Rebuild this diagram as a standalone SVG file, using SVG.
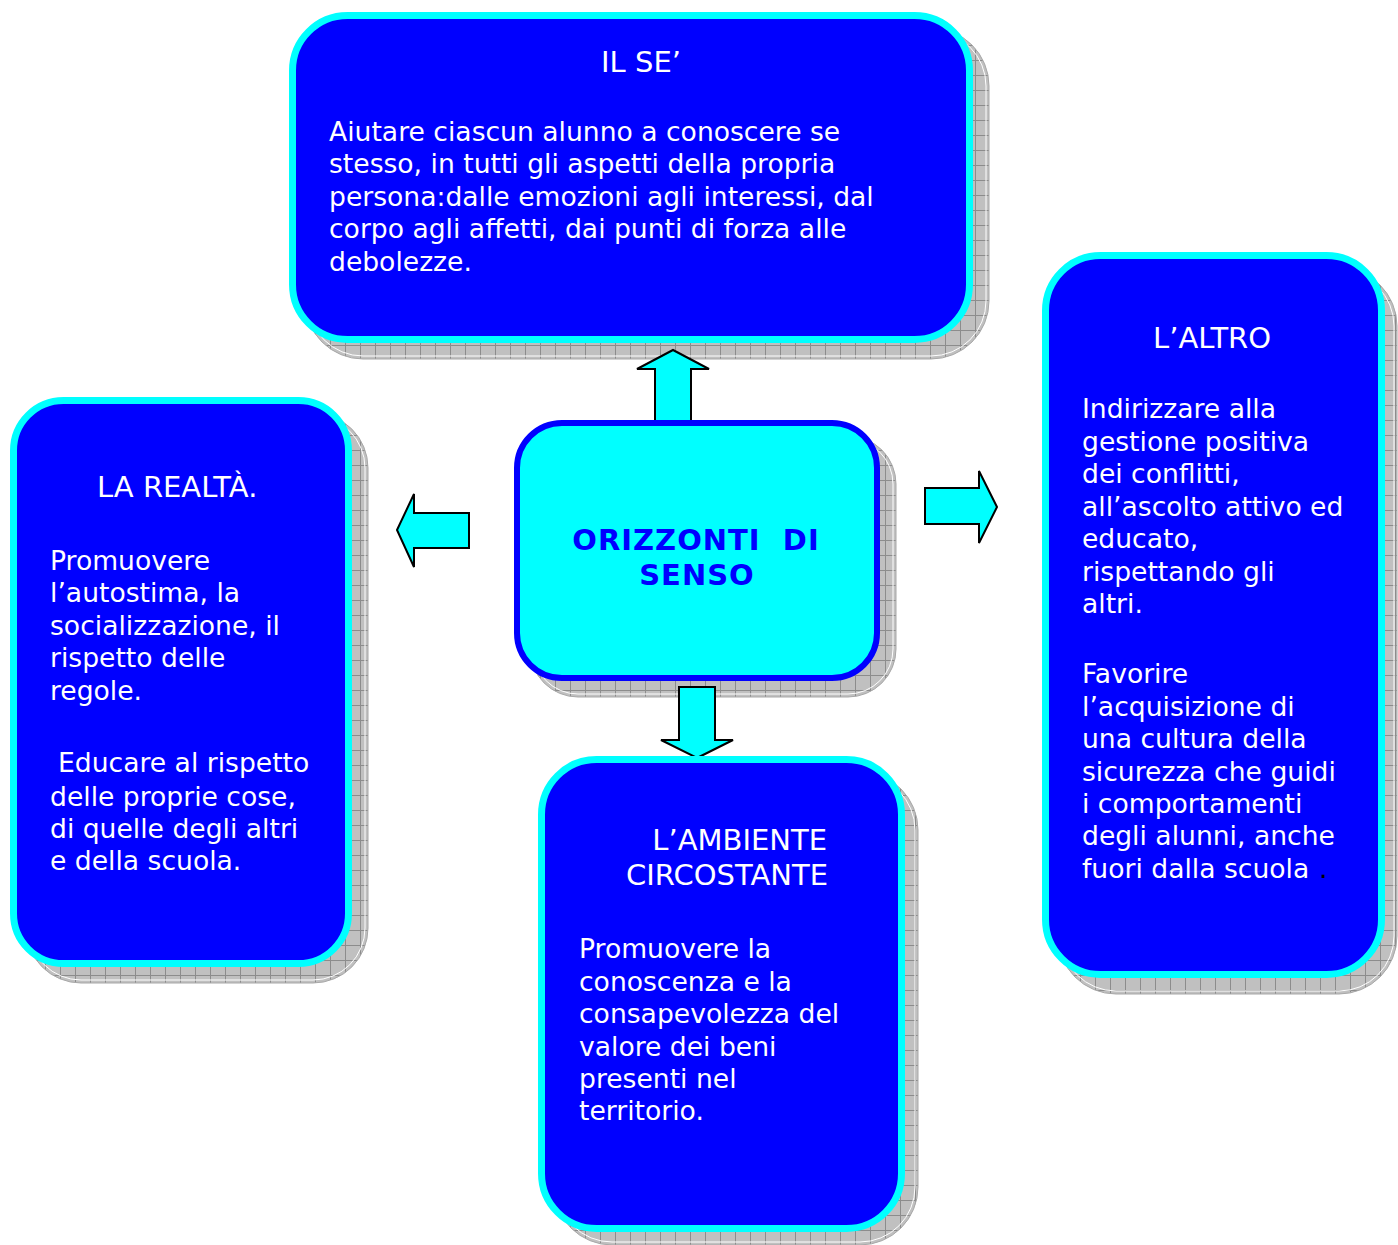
<svg xmlns="http://www.w3.org/2000/svg" width="1398" height="1245" viewBox="0 0 1398 1245">
<style>
.box{fill:#0000ff;stroke:#00ffff;stroke-width:7}
.center{fill:#00ffff;stroke:#0000ff;stroke-width:6}
.shadow{fill:url(#grid);stroke:#a8a8a8;stroke-width:1}
.shin{fill:none;stroke:#ffffff;stroke-width:1}
.arrow{fill:#00ffff;stroke:#000000;stroke-width:2;stroke-linejoin:miter}
.t{font-family:"DejaVu Sans","Verdana",sans-serif;fill:#ffffff;font-size:26.6px}
.title{font-family:"DejaVu Sans","Verdana",sans-serif;fill:#ffffff;font-size:29px}
.ct{font-family:"DejaVu Sans","Verdana",sans-serif;fill:#0000ff;font-size:29px;font-weight:bold;letter-spacing:1px}
</style>
<defs>
<pattern id="grid" width="15" height="15" patternUnits="userSpaceOnUse">
<rect width="15" height="15" fill="#c0c0c0"/>
<path d="M0 0.5H15M0.5 0V15" stroke="#8c8c8c" stroke-width="1" fill="none"/>
</pattern>
</defs>
<rect width="1398" height="1245" fill="#ffffff"/>

<g id="shadows">
<rect class="shadow" x="305" y="28" width="684" height="331" rx="58"/>
<rect class="shin" x="308" y="31" width="678" height="325" rx="55"/>
<rect class="shadow" x="26" y="413" width="342" height="570" rx="55"/>
<rect class="shin" x="29" y="416" width="336" height="564" rx="52"/>
<rect class="shadow" x="1058" y="268" width="339" height="726" rx="58"/>
<rect class="shin" x="1061" y="271" width="333" height="720" rx="55"/>
<rect class="shadow" x="554" y="772" width="364" height="473" rx="58"/>
<rect class="shin" x="557" y="775" width="358" height="467" rx="55"/>
<rect class="shadow" x="530" y="436" width="366" height="261" rx="48"/>
<rect class="shin" x="533" y="439" width="360" height="255" rx="45"/>
</g>

<g id="connectors">
<polygon class="arrow" points="673,350 709,369 691,369 691,422 655,422 655,369 637,369"/>
<polygon class="arrow" points="697,758 733,740 715,740 715,687 679,687 679,740 661,740"/>
<polygon class="arrow" points="397,530 414,494 414,513 469,513 469,548 414,548 414,567"/>
<polygon class="arrow" points="997,507 979,471 979,488 925,488 925,524 979,524 979,543"/>
</g>

<g id="node-ilse">
<rect class="box" x="292.5" y="15.5" width="677" height="324" rx="55"/>
<text class="title" x="641" y="72" text-anchor="middle" font-size="30">IL SE’</text>
<text class="t" x="329" y="141">Aiutare ciascun alunno a conoscere se</text>
<text class="t" x="329" y="173">stesso, in tutti gli aspetti della propria</text>
<text class="t" x="329" y="206">persona:dalle emozioni agli interessi, dal</text>
<text class="t" x="329" y="238">corpo agli affetti, dai punti di forza alle</text>
<text class="t" x="329" y="271">debolezze.</text>
</g>

<g id="node-realta">
<rect class="box" x="13.5" y="400.5" width="335" height="563" rx="50"/>
<text class="title" x="97" y="497">LA REALTÀ.</text>
<text class="t" x="50" y="570">Promuovere</text>
<text class="t" x="50" y="602">l’autostima, la</text>
<text class="t" x="50" y="635">socializzazione, il</text>
<text class="t" x="50" y="667">rispetto delle</text>
<text class="t" x="50" y="700">regole.</text>
<text class="t" x="58" y="772">Educare al rispetto</text>
<text class="t" x="50" y="806">delle proprie cose,</text>
<text class="t" x="50" y="838">di quelle degli altri</text>
<text class="t" x="50" y="870">e della scuola.</text>
</g>

<g id="node-altro">
<rect class="box" x="1045.5" y="255.5" width="336" height="719" rx="55"/>
<text class="title" x="1153" y="348">L’ALTRO</text>
<text class="t" x="1082" y="418">Indirizzare alla</text>
<text class="t" x="1082" y="451">gestione positiva</text>
<text class="t" x="1082" y="483">dei conflitti,</text>
<text class="t" x="1082" y="516">all’ascolto attivo ed</text>
<text class="t" x="1082" y="548">educato,</text>
<text class="t" x="1082" y="581">rispettando gli</text>
<text class="t" x="1082" y="613">altri.</text>
<text class="t" x="1082" y="683">Favorire</text>
<text class="t" x="1082" y="716">l’acquisizione di</text>
<text class="t" x="1082" y="748">una cultura della</text>
<text class="t" x="1082" y="781">sicurezza che guidi</text>
<text class="t" x="1082" y="813">i comportamenti</text>
<text class="t" x="1082" y="845">degli alunni, anche</text>
<text class="t" x="1082" y="878">fuori dalla scuola<tspan x="1319" fill="#000000">.</tspan></text>
</g>

<g id="node-ambiente">
<rect class="box" x="541.5" y="759.5" width="360" height="469" rx="55"/>
<text class="title" x="827" y="850" text-anchor="end">L’AMBIENTE</text>
<text class="title" x="828" y="885" text-anchor="end">CIRCOSTANTE</text>
<text class="t" x="579" y="958">Promuovere la</text>
<text class="t" x="579" y="991">conoscenza e la</text>
<text class="t" x="579" y="1023">consapevolezza del</text>
<text class="t" x="579" y="1056">valore dei beni</text>
<text class="t" x="579" y="1088">presenti nel</text>
<text class="t" x="579" y="1120">territorio.</text>
</g>

<g id="node-center">
<rect class="center" x="517" y="423" width="360" height="255" rx="45"/>
<text class="ct" x="696" y="550" text-anchor="middle" xml:space="preserve">ORIZZONTI  DI</text>
<text class="ct" x="697" y="585" text-anchor="middle">SENSO</text>
</g>
</svg>
